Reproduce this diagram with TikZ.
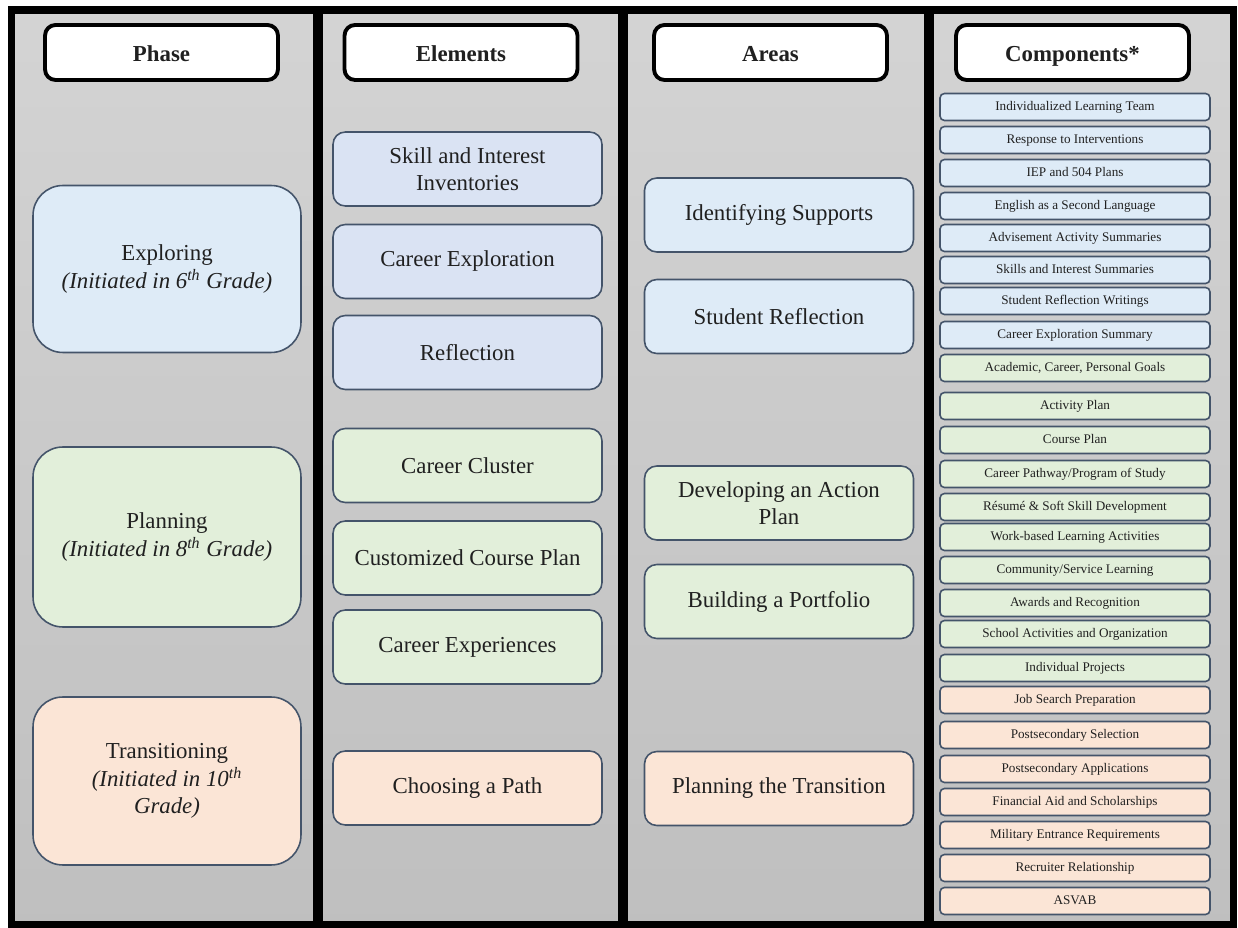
\documentclass[tikz,border=0pt]{standalone}
\usepackage{fontspec}
\setmainfont{Liberation Serif}
\usepackage{tikz}

\definecolor{boxline}{HTML}{44546A}
\definecolor{phaseblue}{HTML}{DEEBF7}
\definecolor{elemblue}{HTML}{DAE3F3}
\definecolor{planggreen}{HTML}{E2EFDA}
\definecolor{transpeach}{HTML}{FBE5D6}
\definecolor{txt}{HTML}{202020}

\tikzset{
	heading/.style={draw=black, line width=2.2pt, fill=white, rounded corners=6pt, minimum width=4.66cm, minimum height=1.1cm, inner sep=0pt, text height=11.5pt, text depth=1.5pt, text=txt, font=\bfseries\fontsize{13}{15}\selectfont},
	phasebox/.style={draw=boxline, line width=0.9pt, rounded corners=17pt, minimum width=5.36cm, inner sep=0pt, align=center, text=txt, font=\fontsize{13}{15.5}\selectfont},
	elembox/.style={draw=boxline, line width=0.9pt, rounded corners=7pt, minimum width=5.38cm, minimum height=1.48cm, inner sep=0pt, align=center, text=txt, font=\fontsize{13}{15.5}\selectfont},
	compbox/.style={draw=boxline, line width=0.9pt, rounded corners=2.5pt, minimum width=5.4cm, minimum height=0.54cm, inner sep=0pt, text height=5.3pt, text depth=1.6pt, text=txt, font=\fontsize{7.5}{9}\selectfont}
}

\begin{document}
\begin{tikzpicture}[x=0.02cm, y=-0.02cm]
	\useasboundingbox (0,0) rectangle (1238,928);
	\fill[top color=black!17, bottom color=black!25] (11.5,10) rectangle (1233.5,924.5);
	\draw[line width=4pt] (11.5,10) rectangle (1233.5,924.5);
	\draw[line width=5.5pt] (318,10) -- (318,924.5);
	\draw[line width=5.5pt] (623,10) -- (623,924.5);
	\draw[line width=5.5pt] (929,10) -- (929,924.5);

	\node[heading] (phase) at (161.5, 52.5) {Phase};
	\node[heading] (elements) at (461, 52.5) {Elements};
	\node[heading] (areas) at (770.5, 52.5) {Areas};
	\node[heading] (components) at (1072.5, 52.5) {Components*};

	\node[phasebox, fill=phaseblue, minimum height=3.34cm] (exploring) at (167, 269) {Exploring\\\textit{(Initiated in 6\textsuperscript{th} Grade)}};
	\node[phasebox, fill=planggreen, minimum height=3.6cm] (planning) at (167, 537) {Planning\\\textit{(Initiated in 8\textsuperscript{th} Grade)}};
	\node[phasebox, fill=transpeach, minimum height=3.36cm] (transitioning) at (167, 781) {Transitioning\\\textit{(Initiated in 10\textsuperscript{th}}\\\textit{Grade)}};

	\node[elembox, fill=elemblue] (inventories) at (467.5, 169) {Skill and Interest\\Inventories};
	\node[elembox, fill=elemblue] (exploration) at (467.5, 261.5) {Career Exploration};
	\node[elembox, fill=elemblue] (reflection) at (467.5, 352.5) {Reflection};
	\node[elembox, fill=planggreen] (cluster) at (467.5, 465.5) {Career Cluster};
	\node[elembox, fill=planggreen] (courseplan) at (467.5, 558) {Customized Course Plan};
	\node[elembox, fill=planggreen] (experiences) at (467.5, 647) {Career Experiences};
	\node[elembox, fill=transpeach] (path) at (467.5, 788) {Choosing a Path};

	\node[elembox, fill=phaseblue] (supports) at (779, 215) {Identifying Supports};
	\node[elembox, fill=phaseblue] (studentrefl) at (779, 316.5) {Student Reflection};
	\node[elembox, fill=planggreen] (actionplan) at (779, 503) {Developing an Action\\Plan};
	\node[elembox, fill=planggreen] (portfolio) at (779, 601.5) {Building a Portfolio};
	\node[elembox, fill=transpeach] (transition) at (779, 788.5) {Planning the Transition};

	\node[compbox, fill=phaseblue] (c1) at (1075, 107) {Individualized Learning Team};
	\node[compbox, fill=phaseblue] (c2) at (1075, 140) {Response to Interventions};
	\node[compbox, fill=phaseblue] (c3) at (1075, 173) {IEP and 504 Plans};
	\node[compbox, fill=phaseblue] (c4) at (1075, 206) {English as a Second Language};
	\node[compbox, fill=phaseblue] (c5) at (1075, 238) {Advisement Activity Summaries};
	\node[compbox, fill=phaseblue] (c6) at (1075, 270) {Skills and Interest Summaries};
	\node[compbox, fill=phaseblue] (c7) at (1075, 301) {Student Reflection Writings};
	\node[compbox, fill=phaseblue] (c8) at (1075, 335) {Career Exploration Summary};
	\node[compbox, fill=planggreen] (c9) at (1075, 368) {Academic, Career, Personal Goals};
	\node[compbox, fill=planggreen] (c10) at (1075, 406) {Activity Plan};
	\node[compbox, fill=planggreen] (c11) at (1075, 440) {Course Plan};
	\node[compbox, fill=planggreen] (c12) at (1075, 474) {Career Pathway/Program of Study};
	\node[compbox, fill=planggreen] (c13) at (1075, 507) {Résumé \& Soft Skill Development};
	\node[compbox, fill=planggreen] (c14) at (1075, 537) {Work-based Learning Activities};
	\node[compbox, fill=planggreen] (c15) at (1075, 570) {Community/Service Learning};
	\node[compbox, fill=planggreen] (c16) at (1075, 603) {Awards and Recognition};
	\node[compbox, fill=planggreen] (c17) at (1075, 634) {School Activities and Organization};
	\node[compbox, fill=planggreen] (c18) at (1075, 668) {Individual Projects};
	\node[compbox, fill=transpeach] (c19) at (1075, 700) {Job Search Preparation};
	\node[compbox, fill=transpeach] (c20) at (1075, 735) {Postsecondary Selection};
	\node[compbox, fill=transpeach] (c21) at (1075, 769) {Postsecondary Applications};
	\node[compbox, fill=transpeach] (c22) at (1075, 802) {Financial Aid and Scholarships};
	\node[compbox, fill=transpeach] (c23) at (1075, 835) {Military Entrance Requirements};
	\node[compbox, fill=transpeach] (c24) at (1075, 868) {Recruiter Relationship};
	\node[compbox, fill=transpeach] (c25) at (1075, 901) {ASVAB};
\end{tikzpicture}
\end{document}
